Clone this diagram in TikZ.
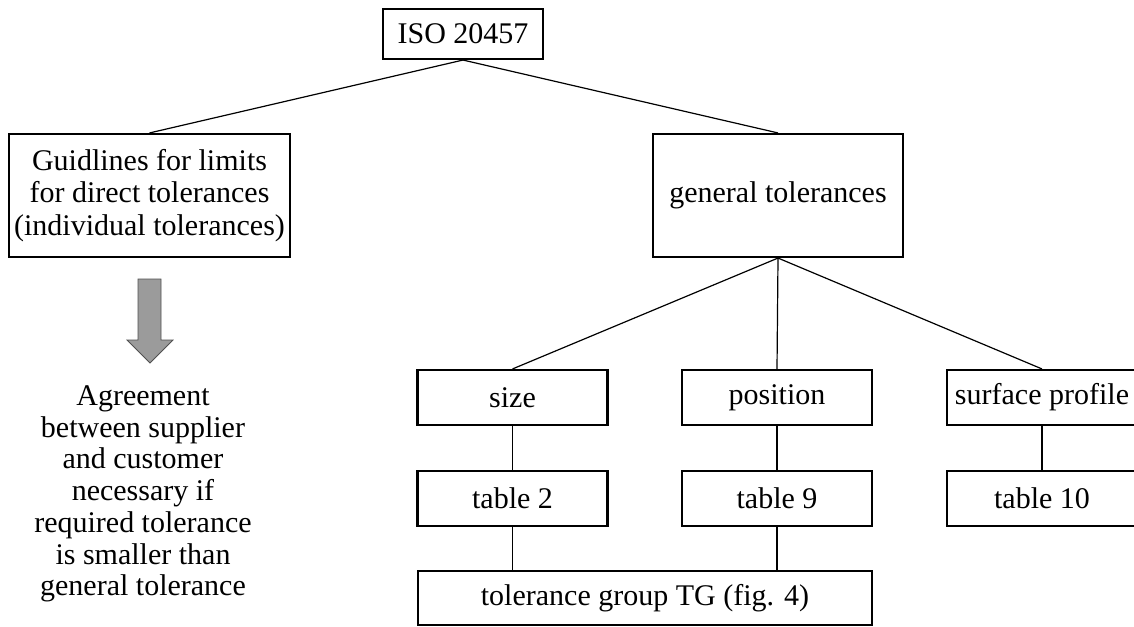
\documentclass[tikz,border=0pt]{standalone}
\usepackage{fontspec}
\setmainfont{Liberation Serif}
\definecolor{arrowgray}{RGB}{155,155,155}
\definecolor{arrowedge}{RGB}{80,80,80}
\begin{document}
\begin{tikzpicture}[x=1pt, y=1pt,
    tbox/.style={draw, line width=2.1pt, inner sep=0pt, align=center,
      minimum width=190pt, minimum height=55pt,
      font=\fontsize{30}{32.5}\selectfont},
    link/.style={line width=1.2pt}]
            \useasboundingbox (0,0) rectangle (1134,-626);
            \node[tbox, minimum width=160pt, minimum height=50pt] (iso) at (463,-34) {ISO 20457};
            \node[tbox, minimum width=281pt, minimum height=123pt] (guide) at (149.5,-195.5) {Guidlines for limits\\for direct tolerances\\(individual tolerances)};
            \node[tbox, minimum width=250pt, minimum height=123pt] (gen) at (778,-195.5) {general tolerances};
            \node[tbox] (size) at (512.5,-397.5) {size};
            \node[tbox] (pos) at (777,-397.5) {position};
            \node[tbox] (surf) at (1042,-397.5) {surface profile};
            \node[tbox] (tab2) at (512.5,-498.5) {table 2};
            \node[tbox] (tab9) at (777,-498.5) {table 9};
            \node[tbox] (tab10) at (1042,-498.5) {table 10};
            \node[tbox, minimum width=454pt, minimum height=54pt] (tg) at (645,-598) {tolerance group TG (fig. 4)};
            \node[align=center, inner sep=0pt, font=\fontsize{30}{31.7}\selectfont] (agree) at (143,-494) {Agreement\\between supplier\\and customer\\necessary if\\required tolerance\\is smaller than\\general tolerance};
            % block arrow
            \draw[fill=arrowgray, draw=arrowedge, line width=0.8pt, line join=miter]
              (138,-279) -- (161,-279) -- (161,-340) -- (173,-340) -- (150,-363)
              -- (127,-340) -- (138,-340) -- cycle;
            \draw[link] (iso.south) -- (guide.north);
            \draw[link] (iso.south) -- (gen.north);
            \draw[link] (gen.south) -- (size.north);
            \draw[link] (gen.south) -- (pos.north);
            \draw[link] (gen.south) -- (surf.north);
            \draw[link] (size) -- (tab2);
            \draw[link] (pos) -- (tab9);
            \draw[link] (surf) -- (tab10);
            \draw[link] (tab2.south) -- (tab2.south |- tg.north);
            \draw[link] (tab9.south) -- (tab9.south |- tg.north);
          \end{tikzpicture}
\end{document}
